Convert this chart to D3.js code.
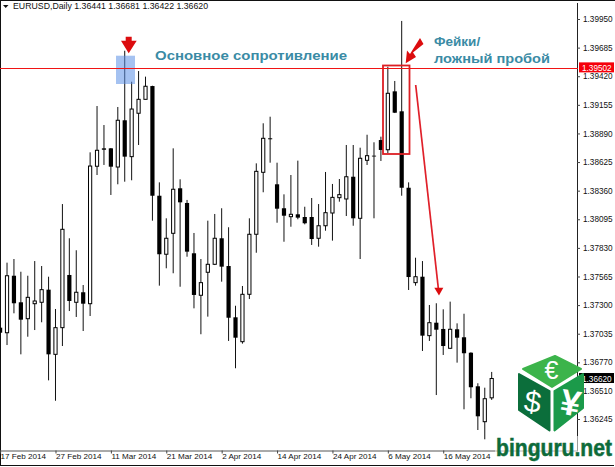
<!DOCTYPE html>
<html><head><meta charset="utf-8">
<script src="https://cdnjs.cloudflare.com/ajax/libs/d3/7.8.5/d3.min.js"></script>
<style>html,body{margin:0;padding:0;background:#fff}svg{display:block}
text{font-family:"Liberation Sans",sans-serif}</style></head><body>
<svg id="c" width="615" height="467"></svg>
<script>
const symbol="EURUSD,Daily";
const quote=["1.36441","1.36681","1.36422","1.36620"];
const opens=[137091,137044,137572,137326,137174,137313,137326,137443,136844,137091,137579,137326,137419,137313,138586,138752,138752,138579,139012,138675,139077,139206,139329,138313,137771,137965,138382,138246,137780,137391,137604,137678,137919,137662,137187,136961,137400,137956,138530,138845,138419,138197,138119,138141,138116,138116,137919,138035,138153,138295,138283,138489,138104,138641,138684,138829,138739,139280,139095,138387,137508,137563,137017,137137,137079,136900,137076,137002,136859,136548,136220,136441];
const highs=[137091,137693,137727,137609,137572,137708,137662,137563,137264,138236,137919,137808,137486,138715,139144,138968,138755,139135,139656,139369,139468,139416,139332,138437,138104,138752,138465,138274,137968,137727,138082,138144,138197,138021,137294,137477,138104,138613,138984,139045,138619,138326,138505,138638,138211,138292,138236,138533,138422,138468,138783,138783,138758,138878,138808,138860,139508,139376,139932,138437,137739,137708,137301,137317,137261,137332,137131,137220,136863,136576,136535,136681];
const lows=[137044,136930,137224,136844,137007,137069,137141,136603,136414,136921,137245,137190,137060,137199,138505,138598,138320,138419,138443,138456,138783,139206,138082,137480,137641,137595,137470,137748,137270,137030,137193,137671,137517,136968,136715,136943,137356,137785,138345,138619,138063,137887,138026,138095,138048,137857,137841,137989,137897,138258,138125,138035,137727,138598,138104,138635,138706,139079,138313,137440,137480,136875,136968,136467,136838,136893,136767,136335,136437,136143,136057,136422];
const closes=[137044,137572,137317,137165,137372,137338,137443,136844,137091,138002,137338,137419,137313,138588,138734,138739,138582,139012,138675,139116,139206,139327,138313,137771,137919,138373,138252,137795,137394,137508,137678,137919,137656,137183,136998,137400,137956,138539,138845,138836,138193,138128,138141,138110,138058,137912,138035,138156,138298,138323,138489,138104,138660,138684,138678,138737,139262,139082,138387,137560,137563,137017,137137,137072,136921,137076,136998,136854,136539,136270,136433,136620];
const priceTicks=[1.3995,1.39685,1.3942,1.39155,1.3889,1.38625,1.3836,1.38095,1.3783,1.37565,1.373,1.37035,1.3677,1.3651,1.36245];
const dateIndex=[-1,7,15,23,31,39,47,55,63];
const dateLabels=["17 Feb 2014","27 Feb 2014","11 Mar 2014","21 Mar 2014","2 Apr 2014","14 Apr 2014","24 Apr 2014","6 May 2014","16 May 2014"];
const resistance=1.39502, lastPrice=1.3662;
const noteResistance="Основное сопротивление";
const noteFake=["Фейки/","ложный пробой"];
const site="binguru.net";

const svg=d3.select("#c");
const x=d3.scaleLinear().domain([-1,70]).range([0.1,491.7]);
const y=d3.scaleLinear().domain([139950,136245]).range([19,419]);
const yp=d3.scaleLinear().domain([1.3995,1.36245]).range([19,419]);
const rows=opens.map((o,i)=>({i:i-1,o,h:highs[i],l:lows[i],c:closes[i]}));

// frame
svg.append("rect").attr("width",615).attr("height",467).attr("fill","#fff");
svg.append("path").attr("d","M0,0.5H615M0.5,0V466M0,465.5H614").attr("stroke","#111").attr("fill","none");

// axes
const ax=svg.append("g").attr("transform","translate(577,0)")
  .call(d3.axisRight(yp).tickValues(priceTicks).tickFormat(d3.format(".5f")).tickSize(3).tickSizeOuter(0).tickPadding(3));
ax.select(".domain").attr("d","M0.5,3V451").attr("stroke","#222");
ax.selectAll("text").attr("font-size",8.2).attr("fill","#111").attr("font-family","Liberation Sans");
ax.selectAll("line").attr("stroke","#444");
const bx=svg.append("g").attr("transform","translate(0,450.5)")
  .call(d3.axisBottom(x).tickValues(dateIndex).tickFormat((d,i)=>dateLabels[i]).tickSize(3).tickSizeOuter(0));
bx.select(".domain").attr("d","M0,0.5H578").attr("stroke","#555");
bx.selectAll("line").attr("stroke","#444");
bx.selectAll("text").attr("text-anchor","start").attr("dx",0).attr("y",3).attr("font-size",8.1).attr("fill","#111").attr("font-family","Liberation Sans");

// header
svg.append("path").attr("d","M3,5H8.5L5.7,8Z").attr("fill","#111");
svg.append("text").attr("x",13).attr("y",9).attr("font-size",8.75).attr("fill","#111")
  .text(symbol+"  "+quote.join(" "));

// candles
const cg=svg.append("g");
const cs=cg.selectAll("g").data(rows).join("g");
cs.append("line").attr("x1",d=>x(d.i)).attr("x2",d=>x(d.i)).attr("y1",d=>y(d.h)).attr("y2",d=>y(d.l)).attr("stroke","#111").attr("stroke-width",1);
cs.append("rect").attr("x",d=>x(d.i)-(d.c>=d.o?1.6:2.1)).attr("width",d=>d.c>=d.o?3.2:4.2)
  .attr("y",d=>y(Math.max(d.o,d.c))).attr("height",d=>Math.max(0.8,Math.abs(y(d.o)-y(d.c))))
  .attr("fill",d=>d.c>=d.o?"#fff":"#000").attr("stroke",d=>d.c>=d.o?"#000":"none").attr("stroke-width",1);

// highlight boxes
svg.append("rect").attr("x",116).attr("y",55.7).attr("width",19).attr("height",28.3).attr("fill","#5b90e6").attr("fill-opacity",.55);
svg.append("rect").attr("x",383).attr("y",65.5).attr("width",26.5).attr("height",88.5).attr("fill","none").attr("stroke","#dc1f24").attr("stroke-width",1.8);

// resistance line and price tags
svg.append("line").attr("x1",0).attr("x2",578).attr("y1",68.5).attr("y2",68.5).attr("stroke","#f01414").attr("stroke-width",1);
const tag=(v,bg,dy)=>{const g=svg.append("g");
  g.append("rect").attr("x",579).attr("width",35).attr("y",yp(v)-5.5+dy).attr("height",10).attr("fill",bg);
  g.append("text").attr("x",582).attr("y",yp(v)+3+dy).attr("font-size",8.2).attr("fill","#fff").text(d3.format(".5f")(v));};
tag(resistance,"#f5000a",0.5);
tag(lastPrice,"#000",0);

// arrows
const red="#dc0c0e";
svg.append("path").attr("d","M125.7,36.7H131.7V40.7H136.7L128.7,53.3L121,40.7H125.7Z").attr("fill",red);
svg.append("path").attr("d","M420,38L423.5,44L413,52.5L416,57L405.7,63.3L407,50.5L410,54Z").attr("fill",red);
svg.append("line").attr("x1",415.7).attr("y1",85).attr("x2",438.4).attr("y2",289).attr("stroke","#e0202a").attr("stroke-width",1.7);
svg.append("path").attr("d","M434.3,287.7H443.3L439,295.5Z").attr("fill",red);

// notes
const note=svg.append("g").attr("fill","#3a8ba5").attr("font-weight","bold").style("font-family","'DejaVu Sans'");
note.append("text").attr("x",155).attr("y",60).attr("font-size",13.2).attr("textLength",192).attr("lengthAdjust","spacingAndGlyphs").text(noteResistance);
note.append("text").attr("x",434).attr("y",46).attr("font-size",13.5).text(noteFake[0]);
note.append("text").attr("x",434).attr("y",63).attr("font-size",13.5).attr("textLength",116).attr("lengthAdjust","spacingAndGlyphs").text(noteFake[1]);

// logo
const lg=svg.append("g");
lg.append("path").attr("d","M523,369L555,356L581,369L552,387Z").attr("fill","#3cb44b").attr("stroke","#3cb44b").attr("stroke-width",2).attr("stroke-linejoin","round");
lg.append("path").attr("d","M519,374L549.5,391V430.5L519,410Z").attr("fill","#0b6e3b").attr("stroke","#0b6e3b").attr("stroke-width",2).attr("stroke-linejoin","round");
lg.append("path").attr("d","M554.5,391L583,374V408L554.5,430.5Z").attr("fill","#1b9a4a").attr("stroke","#1b9a4a").attr("stroke-width",2).attr("stroke-linejoin","round");
lg.append("text").attr("x",551.5).attr("y",379).attr("text-anchor","middle").attr("font-size",25).attr("fill","#fff").text("€");
lg.append("text").attr("x",533).attr("y",412).attr("text-anchor","middle").attr("font-size",30).attr("fill","#fff").attr("transform","rotate(8 533 400)").text("$");
lg.append("text").attr("x",570.5).attr("y",415).attr("text-anchor","middle").attr("font-size",36).attr("font-weight","bold").attr("fill","#fff").attr("transform","rotate(10 570 403)").text("¥");
lg.append("rect").attr("x",495).attr("y",436).attr("width",118).attr("height",25).attr("fill","#fff").attr("fill-opacity",.55);
lg.append("text").attr("x",496).attr("y",456).attr("font-size",24).attr("font-weight","bold").attr("fill","#0d6b3a").attr("stroke","#0d6b3a").attr("stroke-width",.5).attr("textLength",116).attr("lengthAdjust","spacingAndGlyphs").text(site);
</script></body></html>
